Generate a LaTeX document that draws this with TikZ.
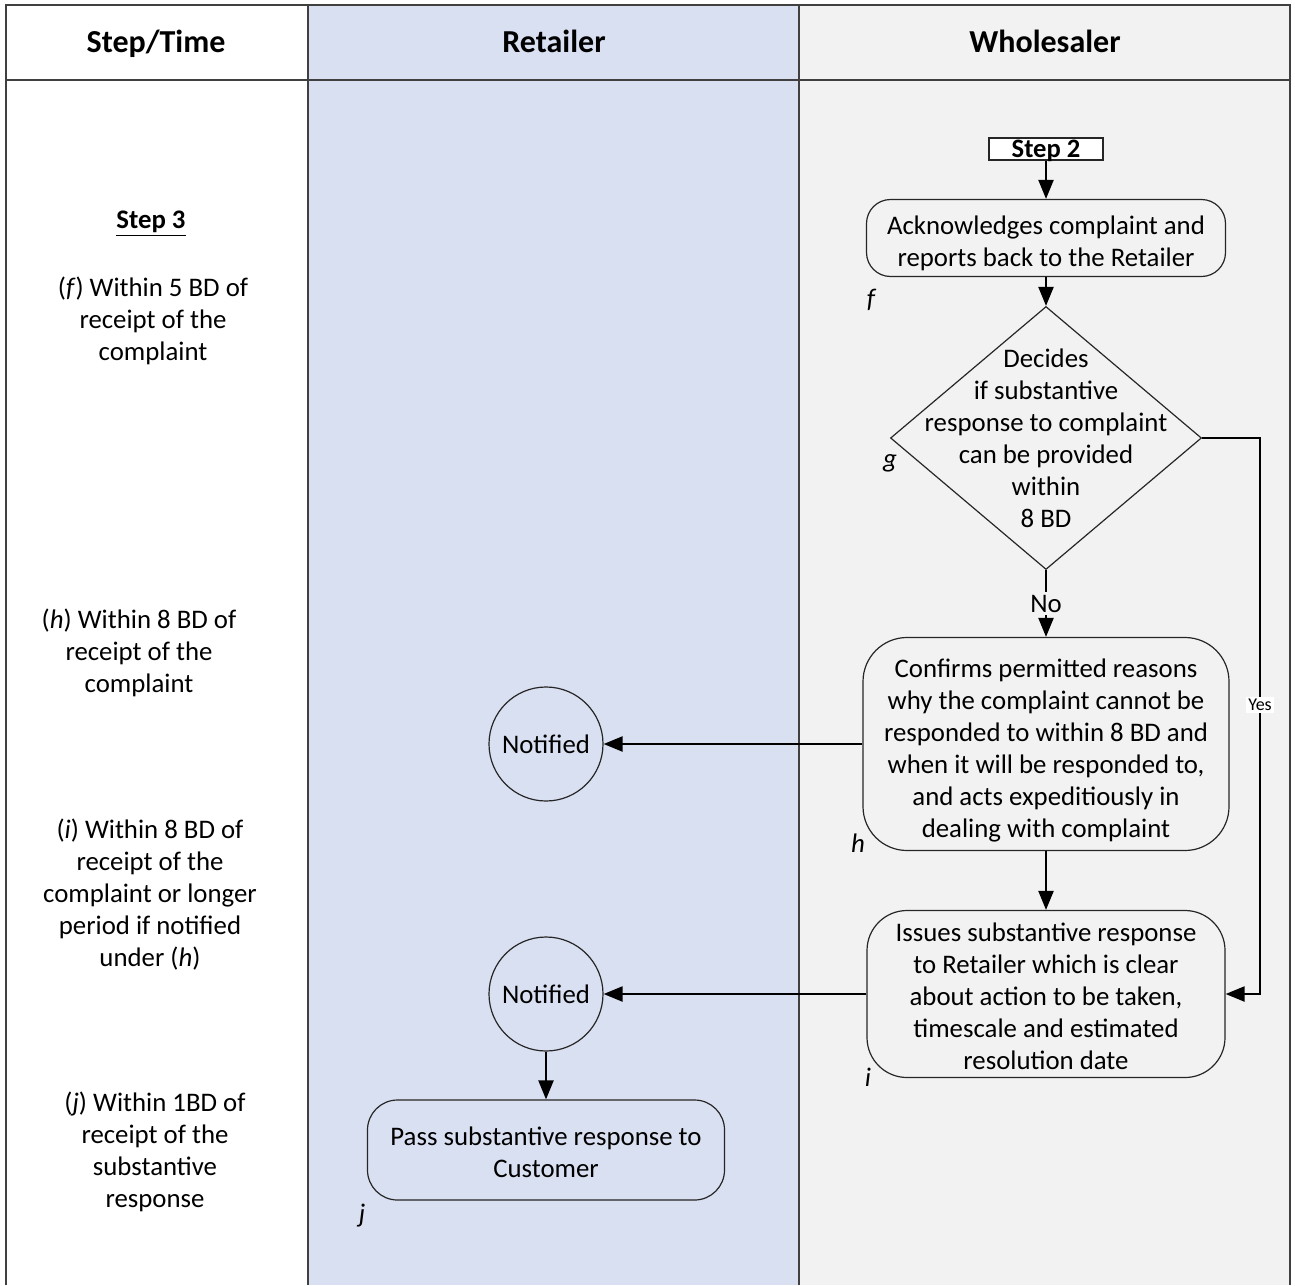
\documentclass[tikz,border=0pt]{standalone}
\usepackage{fontspec}
\setmainfont{Carlito}
\usetikzlibrary{shapes.geometric,arrows.meta}
\definecolor{retblue}{HTML}{D9E0F1}
\definecolor{wsgray}{HTML}{F2F2F2}
\definecolor{framec}{HTML}{404040}
\newcommand\lowerby[1]{\rule{0pt}{#1}}
\begin{document}
\begin{tikzpicture}[x=0.5pt,y=-0.5pt,
  body/.style={font=\fontsize{13.4}{16}\selectfont},
  head/.style={font=\fontsize{16}{19}\selectfont\bfseries, anchor=base},
  proc/.style={draw=black!85, line width=0.6pt, align=center, inner sep=0pt, body},
  circ/.style={circle, draw=black!85, line width=0.6pt, minimum size=57pt, inner sep=0pt, body},
  arr/.style={line width=1.1pt, -{Triangle[length=9.5pt,width=7.5pt]}},
  tag/.style={font=\fontsize{13.4}{16}\selectfont\itshape, inner sep=0pt},
  lefttext/.style={body, align=center, inner sep=0pt, yshift=-0.8pt},
]
\useasboundingbox (0,0) rectangle (1295,1285);
% lanes
\fill[white] (6,5) rectangle (308,1285);
\fill[retblue] (308,5) rectangle (799,1285);
\fill[wsgray] (799,5) rectangle (1290,1285);
\draw[framec, line width=0.7pt] (6,1285) -- (6,5) -- (1290,5) -- (1290,1285);
\draw[framec, line width=0.7pt] (6,80) -- (1290,80);
\draw[framec, line width=0.6pt] (308,5) -- (308,1285);
\draw[framec, line width=0.6pt] (799,5) -- (799,1285);
% headers
\node[head] (hstep) at (156,52) {Step/Time};
\node[head] (hret) at (554,52) {Retailer};
\node[head] (hwho) at (1045,52) {Wholesaler};
% left column
\node[font=\fontsize{13.4}{16}\selectfont\bfseries, inner sep=0pt, yshift=-2.5pt] (s3) at (151,219) {\underline{Step 3}};
\node[lefttext] (tf) at (153,319) {(\textit{f}) Within 5 BD of\\receipt of the\\complaint};
\node[lefttext] (th) at (139,651) {(\textit{h}) Within 8 BD of\\receipt of the\\complaint};
\node[lefttext] (ti) at (150,893) {(\textit{i}) Within 8 BD of\\receipt of the\\complaint or longer\\period if notified\\under (\textit{h})};
\node[lefttext] (tj) at (155,1150) {(\textit{j}) Within 1BD of\\receipt of the\\substantive\\response};
% wholesaler lane
\node[draw=black!85, fill=white, line width=0.6pt, minimum width=57pt, minimum height=11pt, inner sep=0pt, font=\fontsize{13.3}{14}\selectfont\bfseries] (s2) at (1046,149) {\raisebox{-1pt}[\height][\depth]{Step 2}};
\node[proc, rounded corners=12pt, minimum width=179.5pt, minimum height=38.5pt] (f) at (1046,238) {\lowerby{14.7pt}Acknowledges complaint and\\reports back to the Retailer};
\node[diamond, draw=black!85, line width=0.6pt, minimum width=155.5pt, minimum height=131.5pt, inner sep=0pt] (g) at (1046,438) {};
\node[body, align=center, inner sep=0pt] (gt) at (1046,438) {Decides\\if substantive\\response to complaint\\can be provided\\within\\8 BD};
\node[proc, rounded corners=22pt, minimum width=183pt, minimum height=106.5pt] (h) at (1046,744) {\lowerby{15.3pt}Confirms permitted reasons\\why the complaint cannot be\\responded to within 8 BD and\\when it will be responded to,\\and acts expeditiously in\\dealing with complaint};
\node[proc, rounded corners=20pt, minimum width=179pt, minimum height=83.5pt] (i) at (1046,994) {\lowerby{11.5pt}Issues substantive response\\to Retailer which is clear\\about action to be taken,\\timescale and estimated\\resolution date};
% retailer lane
\node[circ] (n1) at (546,744) {Notified};
\node[circ] (n2) at (546,994) {Notified};
\node[proc, rounded corners=15pt, minimum width=178.5pt, minimum height=50pt] (j) at (546,1150) {\lowerby{12pt}Pass substantive response to\\Customer};
% step tags
\node[tag] (lf) at (871,300) {f};
\node[tag] (lg) at (890,463) {g};
\node[tag] (lh) at (858,843) {h};
\node[tag] (li) at (868,1077) {i};
\node[tag] (lj) at (362,1216) {j};
% connectors
\draw[arr] (s2.south) -- (f.north);
\draw[arr] (f.south) -- (g.north);
\draw[arr] (g.south) -- node[fill=wsgray, inner sep=1.5pt, body] {No} (h.north);
\coordinate (yc) at (1260,438);
\draw[arr] (g.east) -- (yc) |- node[pos=0.24, fill=white, inner sep=1pt, font=\fontsize{9}{11}\selectfont] {Yes} (i.east);
\draw[arr] (h.west) -- (n1.east);
\draw[arr] (h.south) -- (i.north);
\draw[arr] (i.west) -- (n2.east);
\draw[arr] (n2.south) -- (j.north);
\end{tikzpicture}
\end{document}
